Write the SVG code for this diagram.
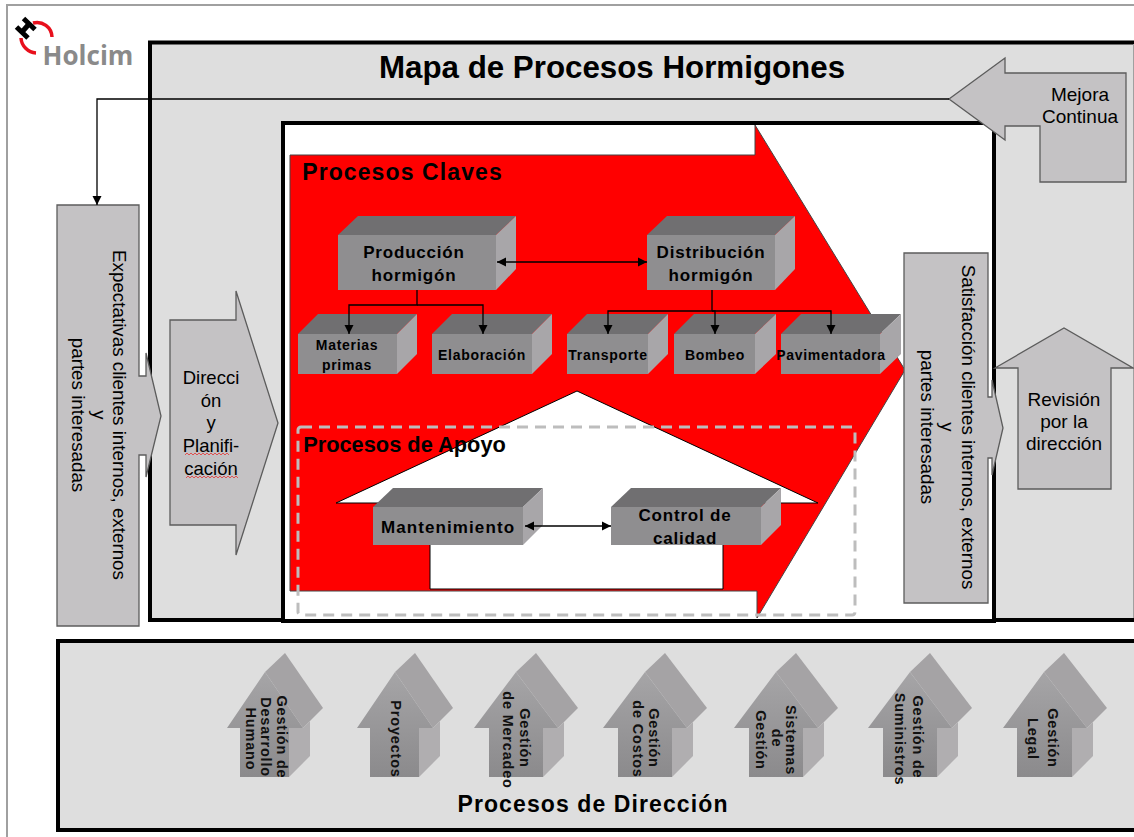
<svg xmlns="http://www.w3.org/2000/svg" width="1134" height="837" viewBox="0 0 1134 837">
<style>
text{font-family:"Liberation Sans",Arial,sans-serif;fill:#000;text-anchor:middle}
.top{fill:#706f71}.front{fill:#8f8e90}.side{fill:#a8a6a9}
.bl{font-weight:bold;font-size:17px;letter-spacing:.8px}
.bs{font-weight:bold;font-size:14px;letter-spacing:.7px}
.big{font-weight:bold}
.lab{font-size:19px}
.lab2{font-size:18.500px}
.vert{font-size:18.800px}
.hs{font-size:14.500px;font-weight:bold;letter-spacing:.8px;fill:#111}
.ga{fill:#c4c2c4;stroke:#5c5c5c;stroke-width:1.3}
.rs{fill:#a5a3a5}.ss{fill:#b0aeb0}.ff{fill:url(#hg)}
.con{fill:none;stroke:#000;stroke-width:1.3}
.wavy{fill:none;stroke:#e05050;stroke-width:1}
</style>
<defs>
<marker id="ah" markerUnits="userSpaceOnUse" markerWidth="10" markerHeight="10" refX="9" refY="5" orient="auto-start-reverse"><path d="M0,0.5 L9,5 L0,9.5 Z" fill="#000"/></marker>
<linearGradient id="hg" gradientUnits="userSpaceOnUse" x1="0" y1="672" x2="0" y2="777"><stop offset="0" stop-color="#a6a5a7"/><stop offset="1" stop-color="#8b8a8c"/></linearGradient>
</defs>

<rect width="1134" height="837" fill="#fff"/>
<path d="M1134,5 H7 V837" fill="none" stroke="#a0a0a0" stroke-width="2"/>

<g id="logo">
<path d="M52,37 A15,15 0 0 0 33,23" fill="none" stroke="#e8101c" stroke-width="3.500"/>
<path d="M36,53 A16,16 0 0 1 21,38" fill="none" stroke="#e8101c" stroke-width="3.500"/>
<path d="M16.500,27 L28,38 M23.500,18.500 L35,29.500 M22,32 L29,24" fill="none" stroke="#000" stroke-width="5"/>
<text x="88" y="65" style="font-family:'Open Sans','Noto Sans',sans-serif;font-weight:bold;font-size:26px;fill:#8a8a8a">Holcim</text>
</g>

<g id="panel-main">
<rect x="150" y="42" width="984" height="578" fill="#dedede"/>
<path d="M1134,42.500 H150 V620 H1134" fill="none" stroke="#000" stroke-width="4"/>
<path d="M1133.500,44 V618" stroke="#a0a0a0" stroke-width="1"/>
<text class="big" x="612" y="78" style="font-size:31.300px">Mapa de Procesos Hormigones</text>
</g>

<g id="panel-inner"><rect x="283" y="123" width="711" height="498" fill="#fff" stroke="#000" stroke-width="4"/></g>

<g id="procesos-claves">
<polygon points="290,155 755,155 755,125 905,370 757,618 757,591 290,591" fill="#f00" stroke="#444" stroke-width="1"/>
<text class="big" x="402.500" y="180" style="font-size:23px;letter-spacing:1.100px">Procesos Claves</text>
</g>

<g id="procesos-apoyo-forma">
<polygon points="577,391 818,503 723,503 723,589 430,589 430,503 336,503" fill="#fff" stroke="#000" stroke-width="1"/>
<text class="big" x="404.500" y="452" style="font-size:21.800px">Procesos de Apoyo</text>
</g>

<g id="produccion"><polygon class="top" points="338,235 358,216 516,216 496,235"/><polygon class="side" points="496,235 516,216 516,269 496,290"/><rect class="front" x="338" y="235" width="158" height="55"/><text class="bl" x="414" y="258">Producción</text><text class="bl" x="414" y="281">hormigón</text></g>
<g id="distribucion"><polygon class="top" points="647,235 667,216 795,216 775,235"/><polygon class="side" points="775,235 795,216 795,269 775,290"/><rect class="front" x="647" y="235" width="128" height="55"/><text class="bl" x="711" y="258">Distribución</text><text class="bl" x="711" y="281">hormigón</text></g>
<g id="materias"><polygon class="top" points="298,334 318,314 417,314 397,334"/><polygon class="side" points="397,334 417,314 417,354 397,374"/><rect class="front" x="298" y="334" width="99" height="40"/><text class="bs" x="347" y="350">Materias</text><text class="bs" x="347" y="370">primas</text></g>
<g id="elaboracion"><polygon class="top" points="432,334 452,314 552,314 532,334"/><polygon class="side" points="532,334 552,314 552,354 532,374"/><rect class="front" x="432" y="334" width="100" height="40"/><text class="bs" x="482" y="360">Elaboración</text></g>
<g id="transporte"><polygon class="top" points="567,334 587,314 668,314 648,334"/><polygon class="side" points="648,334 668,314 668,354 648,374"/><rect class="front" x="567" y="334" width="81" height="40"/><text class="bs" x="608" y="360">Transporte</text></g>
<g id="bombeo"><polygon class="top" points="674,334 694,314 776,314 755,334"/><polygon class="side" points="755,334 776,314 776,354 755,374"/><rect class="front" x="674" y="334" width="81" height="40"/><text class="bs" x="715" y="360">Bombeo</text></g>
<g id="pavimentadora"><polygon class="top" points="781,334 801,314 901,314 880,334"/><polygon class="side" points="880,334 901,314 901,354 880,374"/><rect class="front" x="781" y="334" width="99" height="40"/><text class="bs" x="831" y="360">Pavimentadora</text></g>
<g id="mantenimiento"><polygon class="top" points="373,507 393,488 543,488 523,507"/><polygon class="side" points="523,507 543,488 543,525 523,545"/><rect class="front" x="373" y="507" width="150" height="38"/><text class="bl" x="448" y="533" style="letter-spacing:1.100px">Mantenimiento</text></g>
<g id="control"><polygon class="top" points="611,507 631,488 781,488 761,507"/><polygon class="side" points="761,507 781,488 781,525 761,545"/><rect class="front" x="611" y="507" width="150" height="38"/><text class="bl" x="685" y="521">Control de</text><text class="bl" x="685" y="544">calidad</text></g>

<g id="apoyo-marco"><rect x="298" y="427" width="557" height="188" rx="3" fill="none" stroke="#bdbdbd" stroke-width="3" stroke-dasharray="11,7"/></g>

<g id="expectativas">
<polygon class="ga" points="57,205 139,205 139,376 146,376 146,353 161,416 146,477 146,455 139,455 139,626 57,626"/>
<text class="vert" transform="translate(113,415) rotate(90)">Expectativas clientes internos, externos</text>
<text class="vert" transform="translate(93,415) rotate(90)">y</text>
<text class="vert" transform="translate(72,415) rotate(90)">partes interesadas</text>
</g>

<g id="direccion">
<polygon class="ga" points="170,320 236,320 236,291 278,423 236,555 236,525 170,525"/>
<g class="lab2"><text x="211" y="384">Direcci</text><text x="211" y="407">ón</text><text x="211" y="429">y</text><text x="211" y="452">Planifi-</text><text x="211" y="475">cación</text></g>
<path class="wavy" d="M185,455 l2,-2 l2,2 l2,-2 l2,2 l2,-2 l2,2 l2,-2 l2,2 l2,-2 l2,2 l2,-2 l2,2 l2,-2 l2,2 l2,-2 l2,2 l2,-2 l2,2 l2,-2 l2,2 l2,-2 l2,2 M186,478 l2,-2 l2,2 l2,-2 l2,2 l2,-2 l2,2 l2,-2 l2,2 l2,-2 l2,2 l2,-2 l2,2 l2,-2 l2,2 l2,-2 l2,2 l2,-2 l2,2 l2,-2 l2,2 l2,-2 l2,2 l2,-2 l2,2 l2,-2 l2,2"/>
</g>

<g id="satisfaccion">
<polygon class="ga" points="904,253 988,253 988,397 992,397 992,380 1003,428 992,475 992,458 988,458 988,603 904,603"/>
<text class="vert" transform="translate(962,427) rotate(90)">Satisfacción clientes internos, externos</text>
<text class="vert" transform="translate(941,427) rotate(90)">y</text>
<text class="vert" transform="translate(921,427) rotate(90)">partes interesadas</text>
</g>

<g id="revision">
<polygon class="ga" points="995,368 1064,328 1133,368 1111,368 1111,489 1018,489 1018,368"/>
<g class="lab"><text x="1064" y="406">Revisión</text><text x="1064" y="428">por la</text><text x="1064" y="450">dirección</text></g>
</g>

<g id="mejora">
<polygon class="ga" points="949,99 1005,58 1005,73 1126,73 1126,182 1040,182 1040,126 1005,126 1005,140"/>
<g class="lab"><text x="1080" y="101">Mejora</text><text x="1080" y="123">Continua</text></g>
</g>

<g id="panel-direccion">
<rect x="58" y="641" width="1080" height="189" fill="#dedede" stroke="#000" stroke-width="4"/>
<text class="big" x="593" y="812" style="font-size:23px;letter-spacing:1.100px">Procesos de Dirección</text>
</g>

<g id="gestion-humano">
<polygon class="rs" points="265,672 285,653 323,708 303,728"/><polygon class="ss" points="289,728 303,728 310,721 310,756 289,777"/><polygon class="ff" points="265,672 303,728 289,728 289,777 240,777 240,728 227,728"/>
<text class="hs" transform="translate(277,737) rotate(90)">Gestión de</text><text class="hs" transform="translate(261,737) rotate(90)">Desarrollo</text><text class="hs" transform="translate(246,739) rotate(90)">Humano</text>
</g>
<g id="proyectos">
<polygon class="rs" points="395,672 415,653 453,708 433,728"/><polygon class="ss" points="419,728 433,728 440,721 440,756 419,777"/><polygon class="ff" points="395,672 433,728 419,728 419,777 370,777 370,728 357,728"/>
<text class="hs" transform="translate(391,739) rotate(90)">Proyectos</text>
</g>
<g id="gestion-mercadeo">
<polygon class="rs" points="516,672 536,653 578,708 558,728"/><polygon class="ss" points="543,728 558,728 564,722 564,756 543,777"/><polygon class="ff" points="516,672 558,728 543,728 543,777 489,777 489,728 474,728"/>
<text class="hs" transform="translate(520,738) rotate(90)">Gestión</text><text class="hs" transform="translate(503,740) rotate(90)">de Mercadeo</text>
</g>
<g id="gestion-costos">
<polygon class="rs" points="645,672 665,653 707,708 687,728"/><polygon class="ss" points="672,728 687,728 693,722 693,756 672,777"/><polygon class="ff" points="645,672 687,728 672,728 672,777 618,777 618,728 603,728"/>
<text class="hs" transform="translate(649,738) rotate(90)">Gestión</text><text class="hs" transform="translate(633,739) rotate(90)">de Costos</text>
</g>
<g id="sistemas-gestion">
<polygon class="rs" points="776,672 796,653 838,708 818,728"/><polygon class="ss" points="803,728 818,728 824,722 824,756 803,777"/><polygon class="ff" points="776,672 818,728 803,728 803,777 749,777 749,728 734,728"/>
<text class="hs" transform="translate(786,740) rotate(90)">Sistemas</text><text class="hs" transform="translate(772,738) rotate(90)">de</text><text class="hs" transform="translate(756,740) rotate(90)">Gestión</text>
</g>
<g id="gestion-suministros">
<polygon class="rs" points="910,672 930,653 972,708 952,728"/><polygon class="ss" points="937,728 952,728 958,722 958,756 937,777"/><polygon class="ff" points="910,672 952,728 937,728 937,777 883,777 883,728 868,728"/>
<text class="hs" transform="translate(913,737) rotate(90)">Gestión de</text><text class="hs" transform="translate(895,739) rotate(90)">Suministros</text>
</g>
<g id="gestion-legal">
<polygon class="rs" points="1044,672 1064,653 1107,708 1087,728"/><polygon class="ss" points="1072,728 1087,728 1093,722 1093,756 1072,777"/><polygon class="ff" points="1044,672 1087,728 1072,728 1072,777 1017,777 1017,728 1003,728"/>
<text class="hs" transform="translate(1048,738) rotate(90)">Gestión</text><text class="hs" transform="translate(1028,739) rotate(90)">Legal</text>
</g>

<g id="connectors">
<path class="con" d="M949,99 H97 V205" marker-end="url(#ah)"/>
<path class="con" d="M497,262 H647" marker-start="url(#ah)" marker-end="url(#ah)"/>
<path class="con" d="M417,290 V305 H349 V334" marker-end="url(#ah)"/>
<path class="con" d="M417,305 H483 V334" marker-end="url(#ah)"/>
<path class="con" d="M712,290 V311 H608 V334" marker-end="url(#ah)"/>
<path class="con" d="M712,311 H715 V334" marker-end="url(#ah)"/>
<path class="con" d="M712,311 H831 V334" marker-end="url(#ah)"/>
<path class="con" d="M525,526 H611" marker-start="url(#ah)" marker-end="url(#ah)"/>
</g>
</svg>
